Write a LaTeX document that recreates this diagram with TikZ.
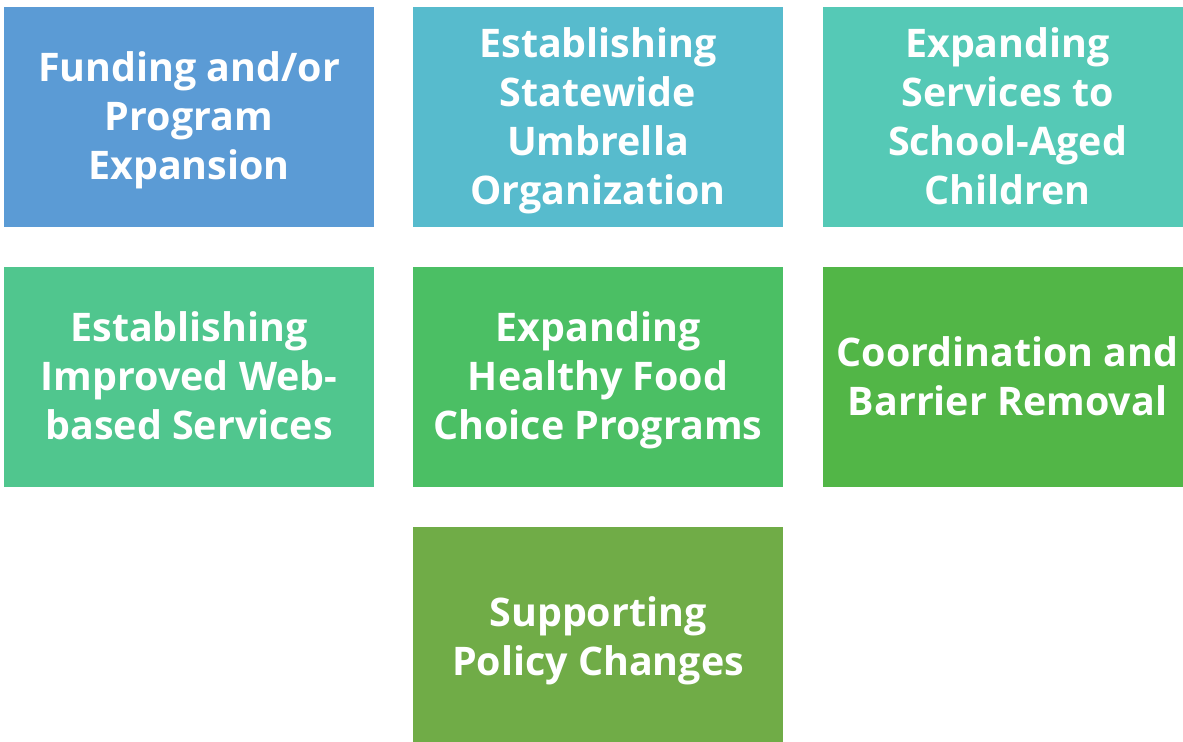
\documentclass[tikz,border=0pt]{standalone}
\usepackage{fontspec}
\setmainfont{Open Sans}
\definecolor{cA}{HTML}{5B9BD5}
\definecolor{cB}{HTML}{57BBCD}
\definecolor{cC}{HTML}{55C9B6}
\definecolor{cD}{HTML}{50C68E}
\definecolor{cE}{HTML}{4BBF64}
\definecolor{cF}{HTML}{52B647}
\definecolor{cG}{HTML}{70AC47}
\begin{document}
\begin{tikzpicture}[x=0.5pt,y=-0.5pt,
  card/.style={minimum width=185pt,minimum height=110pt,inner sep=0pt},
  cardtext/.style={inner sep=0pt,yshift=-3pt,
    execute at begin node=\strut, execute at end node=\strut,
    text=white,align=center,font=\fontsize{19.7}{24.5}\selectfont\bfseries}]
\useasboundingbox (0,0) rectangle (1183,742);
\begin{scope}
\clip (0,0) rectangle (1183,742);
\node[card,fill=cA] (a) at (189,117) {};
\node[card,fill=cB] (b) at (598,117) {};
\node[card,fill=cC] (c) at (1007.5,117) {};
\node[card,fill=cD] (d) at (189,377) {};
\node[card,fill=cE] (e) at (598,377) {};
\node[card,fill=cF] (f) at (1007.5,377) {};
\node[card,fill=cG] (g) at (598,637) {};
\node[cardtext] (ta) at (a.center) {Funding and/or\\Program\\Expansion};
\node[cardtext] (tb) at (b.center) {Establishing\\Statewide\\Umbrella\\Organization};
\node[cardtext] (tc) at (c.center) {Expanding\\Services to\\School-Aged\\Children};
\node[cardtext] (td) at (d.center) {Establishing\\Improved Web-\\based Services};
\node[cardtext] (te) at (e.center) {Expanding\\Healthy Food\\Choice Programs};
\node[cardtext] (tf) at (f.center) {Coordination and\\Barrier Removal};
\node[cardtext] (tg) at (g.center) {Supporting\\Policy Changes};
\end{scope}
\end{tikzpicture}
\end{document}
